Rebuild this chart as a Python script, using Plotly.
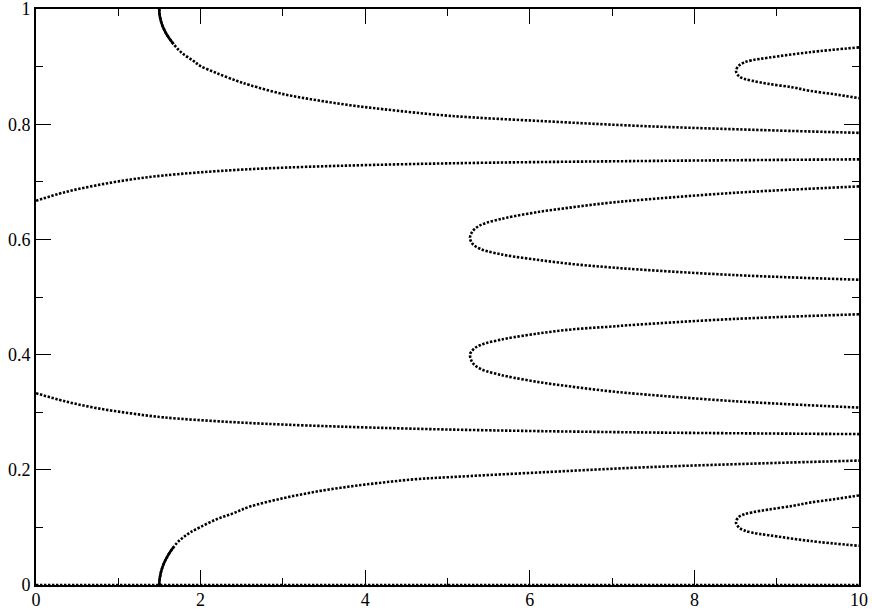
"""
plot.py - diagramme de bifurcation (branches pointillées), Plotly.
"""

import plotly.graph_objects as go

FONT = "Liberation Serif, DejaVu Serif, serif"

# ──────────────────────────────────────────
# DONNÉES
# ──────────────────────────────────────────

# branche triviale y = 0
trivial_x = [0, 10]
trivial_y = [0, 0]

# branche issue de y = 2/3
b_haut_x = [0, 0.35, 0.74, 1.15, 1.55, 2.36, 3.29, 4.99, 7.3, 10]
b_haut_y = [0.667, 0.682, 0.694, 0.704, 0.711, 0.720, 0.726, 0.732, 0.736, 0.739]

# branche issue de y = 1/3
b_bas_x = [0, 0.35, 0.74, 1.15, 1.55, 2.36, 3.29, 4.99, 7.3, 10]
b_bas_y = [0.333, 0.319, 0.307, 0.298, 0.291, 0.283, 0.277, 0.270, 0.265, 0.262]

# pli en x ≈ 1.5 : partie quasi continue près du pli
pli1_sup_dense_x = [1.497, 1.502, 1.516, 1.539, 1.572, 1.614, 1.672]
pli1_sup_dense_y = [1.0, 0.990, 0.980, 0.970, 0.960, 0.950, 0.939]
pli1_inf_dense_x = [1.497, 1.502, 1.516, 1.539, 1.572, 1.614, 1.672]
pli1_inf_dense_y = [0.0, 0.010, 0.021, 0.032, 0.043, 0.054, 0.066]

# pli en x ≈ 1.5 : branche complète (pointillée)
pli1_sup_x = [1.497, 1.516, 1.572, 1.689, 1.790, 1.911, 1.993, 2.195, 2.439, 2.600, 3.005,
              3.411, 3.815, 4.220, 5.030, 6.2, 7.34, 8.55, 10]
pli1_sup_y = [1.0, 0.980, 0.960, 0.936, 0.9217, 0.9101, 0.9014, 0.8887, 0.8753, 0.8678, 0.8522,
              0.8417, 0.8330, 0.8261, 0.8145, 0.805, 0.797, 0.791, 0.785]
pli1_inf_x = [1.497, 1.516, 1.572, 1.709, 1.790, 1.871, 1.993, 2.195, 2.398, 2.600, 3.005,
              3.411, 3.815, 4.220, 4.625, 5.030, 6.2, 7.34, 8.55, 10]
pli1_inf_y = [0.0, 0.021, 0.043, 0.0725, 0.0829, 0.091, 0.1003, 0.1142, 0.1246, 0.1362, 0.1507,
              0.1623, 0.171, 0.178, 0.1838, 0.1873, 0.196, 0.204, 0.210, 0.216]

# pli en x ≈ 5.3 autour de y = 0.6
pli2_x = [10, 8.5, 7.30, 6.93, 6.53, 6.12, 5.719, 5.598, 5.476, 5.395, 5.334, 5.294, 5.273,
          5.294, 5.334, 5.395, 5.476, 5.598, 5.719, 6.12, 6.53, 6.93, 7.30, 8.5, 10]
pli2_y = [0.692, 0.681, 0.668, 0.663, 0.656, 0.648, 0.6377, 0.6336, 0.629, 0.6243, 0.6186, 0.6116, 0.603,
          0.5942, 0.5884, 0.5838, 0.5797, 0.5757, 0.5722, 0.564, 0.557, 0.552, 0.548, 0.538, 0.530]

# pli en x ≈ 5.3 autour de y = 0.4
pli3_x = [10, 8.5, 7.30, 6.93, 6.53, 6.12, 5.719, 5.598, 5.476, 5.395, 5.334, 5.294, 5.273,
          5.294, 5.334, 5.395, 5.476, 5.598, 5.719, 6.12, 6.53, 6.93, 7.30, 8.5, 10]
pli3_y = [0.470, 0.462, 0.452, 0.448, 0.444, 0.437, 0.428, 0.4243, 0.4203, 0.4162, 0.4116, 0.4058, 0.400,
          0.3884, 0.3814, 0.3757, 0.371, 0.3664, 0.3623, 0.352, 0.344, 0.337, 0.332, 0.319, 0.308]

# pli en x ≈ 8.5 autour de y = 0.89
pli4_x = [10, 9.4, 8.9, 8.7, 8.6, 8.54, 8.505,
          8.54, 8.6, 8.7, 8.9, 9.2, 9.4, 9.7, 10]
pli4_y = [0.9334, 0.925, 0.9155, 0.911, 0.907, 0.9015, 0.8927,
          0.8835, 0.879, 0.8755, 0.870, 0.8638, 0.858, 0.852, 0.8452]

# pli en x ≈ 8.5 autour de y = 0.11
pli5_x = [10, 9.7, 9.4, 9.2, 8.9, 8.7, 8.6, 8.54, 8.505,
          8.54, 8.6, 8.7, 8.9, 9.4, 10]
pli5_y = [0.1555, 0.149, 0.143, 0.1375, 0.131, 0.126, 0.1225, 0.118, 0.109,
          0.1, 0.095, 0.091, 0.0865, 0.0765, 0.068]


# ──────────────────────────────────────────
# FIGURE
# ──────────────────────────────────────────

def branche(x, y, dense=False):
    """Trace une branche en pointillés (ou trait plein si points serrés)."""
    if dense:
        line = dict(color="black", width=2.6, shape="spline")
    else:
        line = dict(color="black", width=2.6, shape="spline", dash="2.4px,1.6px")
    return go.Scatter(x=x, y=y, mode="lines", line=line,
                      showlegend=False, hoverinfo="skip")


fig = go.Figure()
fig.add_trace(branche(trivial_x, trivial_y))
fig.add_trace(branche(b_haut_x, b_haut_y))
fig.add_trace(branche(b_bas_x, b_bas_y))
fig.add_trace(branche(pli1_sup_x, pli1_sup_y))
fig.add_trace(branche(pli1_inf_x, pli1_inf_y))
fig.add_trace(branche(pli1_sup_dense_x, pli1_sup_dense_y, dense=True))
fig.add_trace(branche(pli1_inf_dense_x, pli1_inf_dense_y, dense=True))
fig.add_trace(branche(pli2_x, pli2_y))
fig.add_trace(branche(pli3_x, pli3_y))
fig.add_trace(branche(pli4_x, pli4_y))
fig.add_trace(branche(pli5_x, pli5_y))

axis_common = dict(
    showgrid=False, zeroline=False, automargin=False,
    showline=True, linewidth=2, linecolor="black", mirror="ticks",
    ticks="inside", ticklen=15, tickwidth=1, tickcolor="black",
    ticklabeloverflow="allow",
    tickfont=dict(family=FONT, size=18, color="black"),
)

fig.update_xaxes(range=[0, 10], dtick=2, ticklabelstandoff=-3,
                 minor=dict(dtick=1, ticks="inside", ticklen=7, tickwidth=1, tickcolor="black"),
                 **axis_common)
fig.update_yaxes(range=[0, 1], dtick=0.2,
                 minor=dict(dtick=0.1, ticks="inside", ticklen=7, tickwidth=1, tickcolor="black"),
                 **axis_common)

fig.update_layout(
    width=872, height=611,
    margin=dict(l=36, r=13, t=9, b=26),
    font=dict(family=FONT, size=18, color="black"),
    plot_bgcolor="white", paper_bgcolor="white",
)

# la page HTML a une marge de 8 px par défaut : on la retire
fig.write_html("out.html", config={"displayModeBar": False},
               post_script="document.body.style.margin='0';")
